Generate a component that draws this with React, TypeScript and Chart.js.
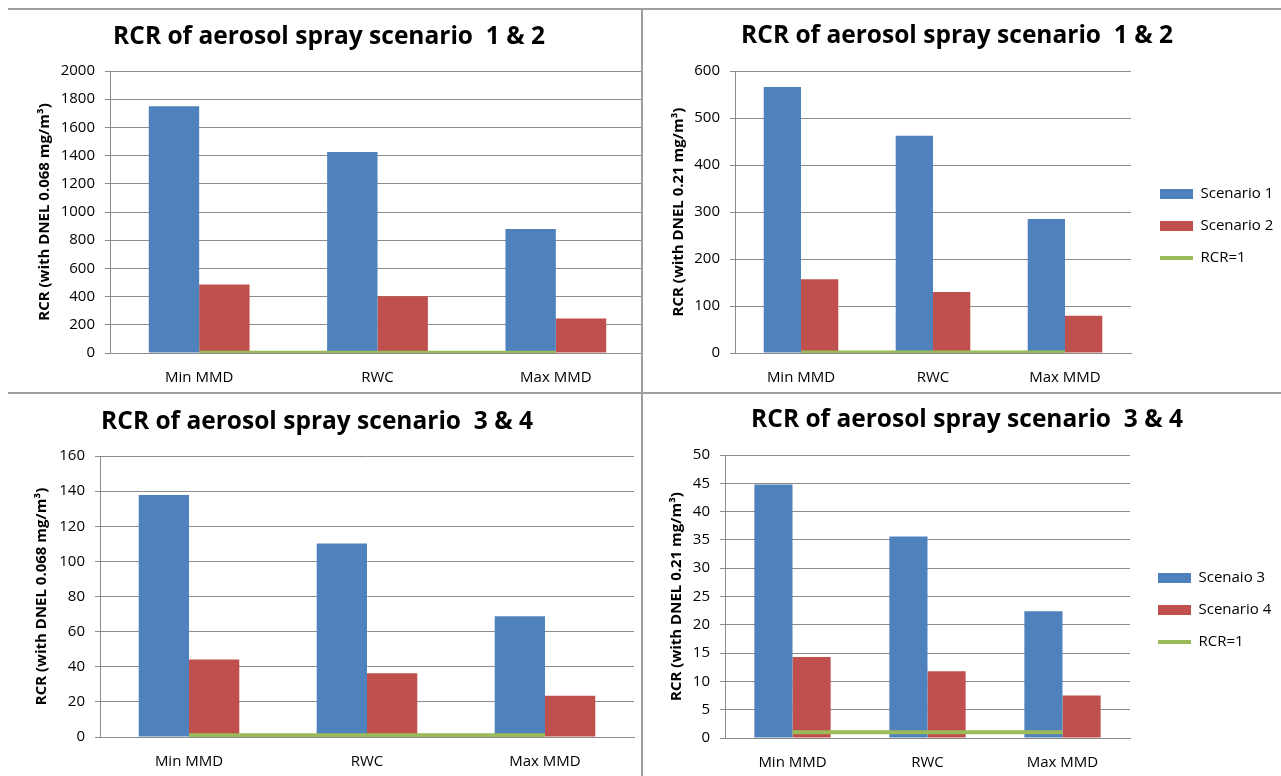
import React, { useEffect, useRef } from "react";
import { Chart, registerables } from "chart.js";

Chart.register(...registerables);

// ---------- data ----------
const categories = ["Min MMD", "RWC", "Max MMD"];

const chartTitles = [
  "RCR of aerosol spray scenario  1 & 2",
  "RCR of aerosol spray scenario  1 & 2",
  "RCR of aerosol spray scenario  3 & 4",
  "RCR of aerosol spray scenario  3 & 4",
];
const yTitles = [
  "RCR (with DNEL 0.068 mg/m³)",
  "RCR (with DNEL 0.21 mg/m³)",
  "RCR (with DNEL 0.068 mg/m³)",
  "RCR (with DNEL 0.21 mg/m³)",
];
const seriesLabelsA = ["Scenario 1", "Scenario 1", "Scenaio 3", "Scenaio 3"];
const seriesLabelsB = ["Scenario 2", "Scenario 2", "Scenario 4", "Scenario 4"];
const lineLabel = "RCR=1";

// chart 1: scenario 1 & 2, DNEL 0.068
const s1Dnel068 = [1750, 1425, 880];
const s2Dnel068 = [485, 402, 245];
// chart 2: scenario 1 & 2, DNEL 0.21
const s1Dnel021 = [566, 462, 285];
const s2Dnel021 = [157, 130, 79];
// chart 3: scenario 3 & 4, DNEL 0.068
const s3Dnel068 = [137.8, 110.2, 68.7];
const s4Dnel068 = [44.1, 36.3, 23.5];
// chart 4: scenario 3 & 4, DNEL 0.21
const s3Dnel021 = [44.8, 35.6, 22.4];
const s4Dnel021 = [14.3, 11.8, 7.5];
// reference line RCR = 1
const rcrLine = [1, 1, 1];

const yMaxes = [2000, 600, 160, 50];
const ySteps = [200, 100, 20, 5];

const seriesA = [s1Dnel068, s1Dnel021, s3Dnel068, s3Dnel021];
const seriesB = [s2Dnel068, s2Dnel021, s4Dnel068, s4Dnel021];
const showLegend = [false, true, false, true];

// ---------- styles ----------
const BLUE = "#4F81BD";
const RED = "#C0504D";
const GREEN = "#9BBB59";
const GRID = "#8C8C8C";
const FONT = "'Open Sans', 'Liberation Sans', sans-serif";
const TITLE_SIZE = 24.5;
const TICK_SIZE = 15;
const YTITLE_SIZE = 15;
const LEGEND_SIZE = 15;
const LEGEND_PAD = 17;

type PanelLayout = {
  left: number;
  top: number;
  width: number;
  height: number;
  clipW: number;
  padL: number;
  padR: number;
  axisW: number;
  yTitlePad: number;
  titleY: number;
  plotTop: number;
  plotBottom: number;
  legendW: number;
  legendDx: number;
  legendDy: number;
};

const layouts: PanelLayout[] = [
  { left: 0, top: 10, width: 660, height: 380, clipW: 641, padL: 13, padR: 15, axisW: 97, yTitlePad: 23, titleY: 37, plotTop: 71, plotBottom: 353, legendW: 0, legendDx: 0, legendDy: 0 },
  { left: 644, top: 10, width: 637, height: 380, clipW: 637, padL: 0, padR: 11, axisW: 91, yTitlePad: 26, titleY: 36, plotTop: 71, plotBottom: 353, legendW: 139, legendDx: 12, legendDy: 26 },
  { left: 0, top: 394, width: 641, height: 382, clipW: 641, padL: 0, padR: 7, axisW: 100, yTitlePad: 33, titleY: 422, plotTop: 456, plotBottom: 737, legendW: 0, legendDx: 0, legendDy: 0 },
  { left: 644, top: 394, width: 637, height: 382, clipW: 637, padL: 9, padR: 0, axisW: 72, yTitlePad: 15, titleY: 420, plotTop: 455, plotBottom: 738, legendW: 151, legendDx: 11, legendDy: 25 },
];

function legendFix(w: number, dx: number, dy: number) {
  return {
    id: "legendFix",
    beforeLayout(chart: any) {
      const lg = chart.legend;
      if (lg && !lg.__patched) {
        const origFit = lg.fit.bind(lg);
        lg.fit = () => {
          origFit();
          lg.width = w;
        };
        lg.__patched = true;
      }
    },
    afterLayout(chart: any) {
      const lg = chart.legend;
      if (!lg) return;
      lg.left += dx;
      lg.right += dx;
      lg.top += dy;
      lg.bottom += dy;
    },
  };
}

function Panel({ idx }: { idx: number }) {
  const ref = useRef<HTMLCanvasElement | null>(null);
  const p = layouts[idx];

  useEffect(() => {
    if (!ref.current) return;
    const L = TITLE_SIZE * 1.2;
    const tY = p.titleY - p.top;
    const pTop = p.plotTop - p.top;
    const titlePadTop = tY - L / 2;
    const titlePadBottom = pTop - titlePadTop - L;
    const xAxisH = p.height - (p.plotBottom - p.top);

    const chart = new Chart(ref.current, {
      type: "bar",
      data: {
        labels: categories,
        datasets: [
          {
            type: "bar",
            label: seriesLabelsA[idx],
            data: seriesA[idx],
            backgroundColor: BLUE,
            borderWidth: 0,
            categoryPercentage: 0.565,
            barPercentage: 1,
            order: 1,
          },
          {
            type: "bar",
            label: seriesLabelsB[idx],
            data: seriesB[idx],
            backgroundColor: RED,
            borderWidth: 0,
            categoryPercentage: 0.565,
            barPercentage: 1,
            order: 1,
          },
          {
            type: "line",
            label: lineLabel,
            data: rcrLine,
            borderColor: GREEN,
            backgroundColor: GREEN,
            borderWidth: 4,
            pointRadius: 0,
            fill: false,
            order: 0,
          },
        ] as any,
      },
      options: {
        responsive: false,
        maintainAspectRatio: false,
        animation: false,
        layout: { padding: { left: p.padL, right: p.padR, top: 0, bottom: 0 } },
        plugins: {
          tooltip: { enabled: false },
          title: {
            display: true,
            text: chartTitles[idx],
            color: "#000",
            font: { family: FONT, size: TITLE_SIZE, weight: "bold", lineHeight: 1.2 },
            padding: { top: titlePadTop, bottom: titlePadBottom },
          },
          legend: {
            display: showLegend[idx],
            position: "right",
            align: "center",
            labels: {
              usePointStyle: true,
              pointStyleWidth: 33,
              boxHeight: 10,
              padding: LEGEND_PAD,
              color: "#000",
              font: { family: FONT, size: LEGEND_SIZE },
              generateLabels: (c: any) =>
                c.data.datasets.map((ds: any, i: number) => {
                  const isLine = ds.type === "line";
                  return {
                    text: ds.label,
                    fillStyle: isLine ? ds.borderColor : ds.backgroundColor,
                    strokeStyle: isLine ? ds.borderColor : ds.backgroundColor,
                    lineWidth: isLine ? 4 : 0,
                    pointStyle: isLine ? "line" : "rect",
                    hidden: false,
                    datasetIndex: i,
                    fontColor: "#000",
                  };
                }),
            },
          },
        },
        scales: {
          x: {
            grid: { display: false, drawTicks: false },
            border: { display: true, color: GRID, width: 1 },
            ticks: { color: "#000", font: { family: FONT, size: TICK_SIZE }, padding: 16 },
            afterFit: (s: any) => {
              s.height = xAxisH;
            },
          },
          y: {
            min: 0,
            max: yMaxes[idx],
            ticks: {
              stepSize: ySteps[idx],
              color: "#000",
              font: { family: FONT, size: TICK_SIZE },
              padding: 10,
              callback: (v: any) => String(v),
            },
            grid: { color: GRID, lineWidth: 1, drawTicks: true, tickLength: 5 },
            border: { display: true, color: GRID, width: 1 },
            title: {
              display: true,
              text: yTitles[idx],
              color: "#000",
              font: { family: FONT, size: YTITLE_SIZE, weight: "bold", lineHeight: 1.2 },
              padding: { top: p.yTitlePad, bottom: 0 },
            },
            afterFit: (s: any) => {
              s.width = p.axisW;
            },
          },
        },
      } as any,
      plugins: showLegend[idx] ? [legendFix(p.legendW, p.legendDx, p.legendDy)] : [],
    });
    return () => chart.destroy();
  }, [idx]);

  return (
    <div
      style={{
        position: "absolute",
        left: p.left,
        top: p.top,
        width: p.clipW,
        height: p.height,
        overflow: "hidden",
      }}
    >
      <canvas
        ref={ref}
        width={p.width}
        height={p.height}
        style={{ display: "block", width: p.width, height: p.height }}
      />
    </div>
  );
}

export default function App() {
  const line = "#9E9E9E";
  return (
    <div
      style={{
        position: "absolute",
        left: 0,
        top: 0,
        width: 1281,
        height: 776,
        background: "#fff",
        overflow: "hidden",
      }}
    >
      {[0, 1, 2, 3].map((i) => (
        <Panel key={i} idx={i} />
      ))}
      <div style={{ position: "absolute", left: 8, top: 8, width: 1273, height: 2, background: line }} />
      <div style={{ position: "absolute", left: 8, top: 392, width: 1273, height: 2, background: line }} />
      <div style={{ position: "absolute", left: 641, top: 8, width: 2, height: 768, background: line }} />
    </div>
  );
}
